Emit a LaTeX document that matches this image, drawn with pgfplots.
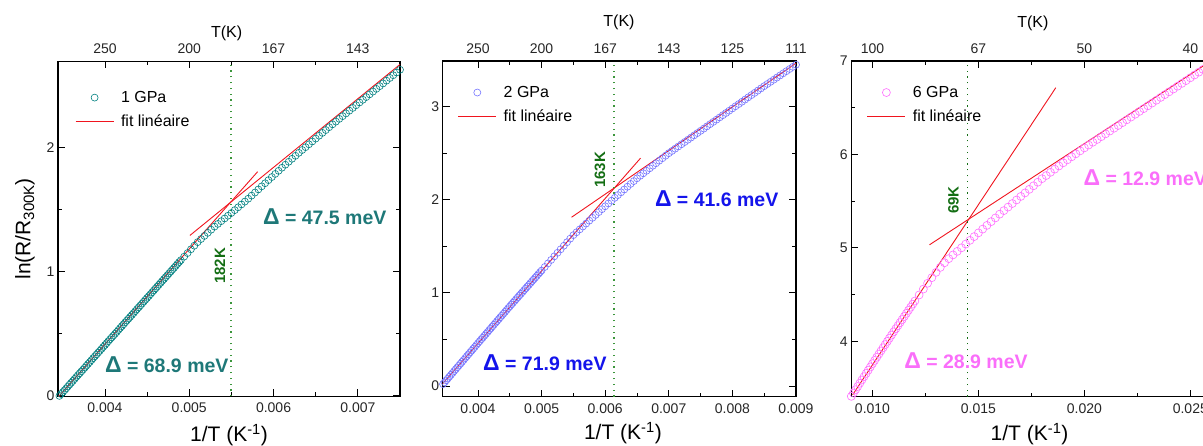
\documentclass[border=0pt]{standalone}
\usepackage{fontspec}
\setmainfont{Liberation Sans}
\usepackage{pgfplots}
\pgfplotsset{compat=1.18}
\definecolor{teal1}{RGB}{0,128,128}
\definecolor{teallab}{RGB}{30,120,120}
\definecolor{blue1}{RGB}{115,115,255}
\definecolor{bluelab}{RGB}{20,20,235}
\definecolor{pink1}{RGB}{255,110,255}
\definecolor{pinklab}{RGB}{250,110,250}
\definecolor{dgreen}{RGB}{20,110,20}
\definecolor{lgreen}{RGB}{60,150,60}
\definecolor{fitred}{RGB}{240,20,30}
\newcommand{\dlab}[1]{\fontsize{19.5}{21}\selectfont\bfseries{\fontsize{23}{23}\selectfont Δ}\ = #1 meV}
\pgfplotsset{legend image code/.code={\draw[mark repeat=2,mark phase=2,#1] plot coordinates {(0pt,0pt) (19pt,0pt) (38pt,0pt)};}}
\pgfplotsset{
  legst/.style={legend style={draw=none, fill=none, font=\fontsize{16}{19}\selectfont, anchor=north west, legend cell align=left, row sep=7pt, column sep=5pt}},
  base/.style={scale only axis, tick align=inside, major tick length=7pt, minor tick length=4pt,
    scaled x ticks=false, scaled y ticks=false,
    axis line style={line width=1.1pt, black}, every tick/.append style={line width=0.9pt, black},
    tick label style={font=\fontsize{14}{16}\selectfont, black!85},
    /pgf/number format/assume math mode=true,
    xticklabel style={yshift=-3pt},
    minor x tick num=1, minor y tick num=1, xtick pos=both, ytick pos=both,
    legst,
    xlabel style={font=\fontsize{21}{24}\selectfont, anchor=center},
    ylabel style={font=\fontsize{21}{24}\selectfont, anchor=center},
  },
  topax/.style={scale only axis, axis x line*=top, axis y line=none, major tick length=0pt, minor tick num=0,
    scaled x ticks=false, clip=false, legst,
    axis line style={draw=none}, tick label style={font=\fontsize{14}{16}\selectfont, black!85},
    xticklabel style={yshift=4pt},
    /pgf/number format/assume math mode=true},
  m1/.style={forget plot, only marks, mark=o, mark size=3.5pt, color=teal1, mark options={line width=0.6pt}},
  m2/.style={forget plot, only marks, mark=o, mark size=3.5pt, color=blue1, mark options={line width=0.6pt}},
  m3/.style={forget plot, only marks, mark=o, mark size=4pt, color=pink1, mark options={line width=0.6pt}},
  fitl/.style={forget plot, draw=fitred, line width=0.9pt},
  fitleg/.style={legend image code/.code={\draw[draw=fitred, line width=0.8pt] (0pt,0pt) -- (38pt,0pt);}},
}
\begin{document}
\begin{tikzpicture}
\useasboundingbox (0pt,0pt) rectangle (1203pt,446pt);
% ---------------- Panel 1 ----------------
\begin{axis}[base, at={(58pt,49.5pt)}, anchor=south west, width=342pt, height=335.4pt,
  xmin=0.003443, xmax=0.0075, ymin=-0.005, ymax=2.7,
  xtick={0.004,0.005,0.006,0.007}, xticklabels={0.004,0.005,0.006,0.007},
  ytick={0,1,2}, yticklabels={0,1,2},
  xlabel={1/T (K\textsuperscript{-1})}, xlabel style={at={(axis description cs:0.5,-0.115)}},
  ylabel={ln(R/R\raisebox{-0.35ex}{\fontsize{15}{15}\selectfont 300K})}, ylabel style={at={(axis description cs:-0.097,0.5)}}]
\addplot[m1] coordinates {
(0.00346,0.000) (0.00350,0.030) (0.00354,0.060) (0.00358,0.091) (0.00362,0.121) (0.00366,0.152)
(0.00370,0.182) (0.00374,0.212) (0.00378,0.243) (0.00382,0.273) (0.00386,0.304) (0.00390,0.334)
(0.00394,0.364) (0.00398,0.395) (0.00402,0.425) (0.00406,0.456) (0.00410,0.486) (0.00414,0.516)
(0.00418,0.547) (0.00422,0.577) (0.00426,0.608) (0.00430,0.638) (0.00434,0.668) (0.00438,0.699)
(0.00442,0.729) (0.00446,0.760) (0.00450,0.790) (0.00454,0.820) (0.00458,0.851) (0.00462,0.881)
(0.00466,0.912) (0.00470,0.942) (0.00474,0.972) (0.00478,1.003) (0.00482,1.033) (0.00486,1.064)
(0.00490,1.094) (0.00494,1.123) (0.00498,1.152) (0.00502,1.182) (0.00506,1.211) (0.00510,1.240)
(0.00514,1.265) (0.00518,1.290) (0.00522,1.315) (0.00526,1.340) (0.00530,1.365) (0.00534,1.387)
(0.00538,1.409) (0.00542,1.431) (0.00546,1.453) (0.00550,1.475) (0.00554,1.498) (0.00558,1.521)
(0.00562,1.544) (0.00566,1.567) (0.00570,1.590) (0.00574,1.615) (0.00578,1.640) (0.00582,1.665)
(0.00586,1.690) (0.00590,1.715) (0.00594,1.740) (0.00598,1.765) (0.00602,1.790) (0.00606,1.815)
(0.00610,1.840) (0.00614,1.864) (0.00618,1.888) (0.00622,1.912) (0.00626,1.936) (0.00630,1.960)
(0.00634,1.983) (0.00638,2.006) (0.00642,2.029) (0.00646,2.052) (0.00650,2.075) (0.00654,2.098)
(0.00658,2.121) (0.00662,2.144) (0.00666,2.167) (0.00670,2.190) (0.00674,2.212) (0.00678,2.234)
(0.00682,2.256) (0.00686,2.278) (0.00690,2.300) (0.00694,2.322) (0.00698,2.344) (0.00702,2.366)
(0.00706,2.388) (0.00710,2.410) (0.00714,2.432) (0.00718,2.454) (0.00722,2.476) (0.00726,2.498)
(0.00730,2.520) (0.00734,2.542) (0.00738,2.564) (0.00742,2.586) (0.00746,2.608) (0.00750,2.630)
};
\addplot[m1] coordinates {
(0.00348,0.015) (0.00352,0.045) (0.00356,0.0755) (0.00360,0.106) (0.00364,0.1365) (0.00368,0.167)
(0.00372,0.197) (0.00376,0.2275) (0.00380,0.258) (0.00384,0.2885) (0.00388,0.319) (0.00392,0.349)
(0.00396,0.3795) (0.00400,0.410) (0.00404,0.4405) (0.00408,0.471) (0.00412,0.501) (0.00416,0.5315)
(0.00420,0.562) (0.00424,0.5925) (0.00428,0.623) (0.00432,0.653) (0.00436,0.6835) (0.00440,0.714)
(0.00444,0.7445) (0.00448,0.775) (0.00452,0.805) (0.00456,0.8355) (0.00460,0.866) (0.00464,0.8965)
(0.00468,0.927) (0.00472,0.957) (0.00476,0.9875) (0.00480,1.018) (0.00484,1.0485) (0.00488,1.079)
};
\addplot[fitl] coordinates {(0.00345,-0.006) (0.005811,1.808)};
\addplot[fitl] coordinates {(0.005008,1.294) (0.0075,2.673)};
\addplot[forget plot, lgreen, line width=1.3pt, dash pattern=on 1.2pt off 4.6pt] coordinates {(0.005495,-0.005) (0.005495,2.7)};
\node[anchor=west, inner sep=0pt, teallab] at (axis cs:0.005874,1.448) {\dlab{47.5}};
\node[anchor=west, inner sep=0pt, teallab] at (axis cs:0.004,0.248) {\dlab{68.9}};
\node[rotate=90, inner sep=0pt, dgreen, font=\fontsize{15}{16}\selectfont\bfseries] at (axis cs:0.005364,1.047) {182K};
\end{axis}
\begin{axis}[topax, at={(58pt,49.5pt)}, anchor=south west, width=342pt, height=335.4pt,
  xmin=0.003443, xmax=0.0075, ymin=-0.005, ymax=2.7,
  xtick={0.004,0.005,0.006,0.007}, xticklabels={250,200,167,143},
  legend style={at={(axis description cs:0,1)}, xshift=14pt, yshift=-26pt}]
\addlegendimage{only marks, mark=o, mark size=3.5pt, color=teal1, mark options={line width=0.6pt}}
\addlegendentry{1 GPa}
\addlegendimage{fitleg}
\addlegendentry{fit linéaire}
\node[font=\fontsize{16}{18}\selectfont] at (axis description cs:0.493,1) [yshift=28pt] {T(K)};
\end{axis}
% ---------------- Panel 2 ----------------
\begin{axis}[base, at={(442.7pt,49.3pt)}, anchor=south west, width=353.3pt, height=335.7pt,
  xmin=0.003445, xmax=0.009, ymin=-0.115, ymax=3.49,
  xtick={0.004,0.005,0.006,0.007,0.008,0.009}, xticklabels={0.004,0.005,0.006,0.007,0.008,0.009},
  ytick={0,1,2,3}, yticklabels={0,1,2,3},
  xlabel={1/T (K\textsuperscript{-1})}, xlabel style={at={(axis description cs:0.51,-0.108)}},
  legend style={at={(axis description cs:0,1)}, xshift=12pt, yshift=-21pt}]
\addlegendimage{only marks, mark=o, mark size=3.5pt, color=blue1, mark options={line width=0.6pt}}
\addlegendentry{2 GPa}
\addlegendimage{fitleg}
\addlegendentry{fit linéaire}
\addplot[m2] coordinates {
(0.00345,0.020) (0.00350,0.060) (0.00355,0.100) (0.00360,0.140) (0.00365,0.180) (0.00370,0.220)
(0.00375,0.260) (0.00380,0.300) (0.00385,0.340) (0.00390,0.380) (0.00395,0.420) (0.00400,0.460)
(0.00405,0.500) (0.00410,0.539) (0.00415,0.579) (0.00420,0.618) (0.00425,0.658) (0.00430,0.697)
(0.00435,0.737) (0.00440,0.776) (0.00445,0.816) (0.00450,0.855) (0.00455,0.894) (0.00460,0.932)
(0.00465,0.971) (0.00470,1.009) (0.00475,1.048) (0.00480,1.086) (0.00485,1.125) (0.00490,1.163)
(0.00495,1.202) (0.00500,1.240) (0.00505,1.278) (0.00510,1.316) (0.00515,1.354) (0.00520,1.392)
(0.00525,1.430) (0.00530,1.468) (0.00535,1.506) (0.00540,1.544) (0.00545,1.582) (0.00550,1.620)
(0.00555,1.651) (0.00560,1.682) (0.00565,1.713) (0.00570,1.744) (0.00575,1.775) (0.00580,1.806)
(0.00585,1.837) (0.00590,1.868) (0.00595,1.899) (0.00600,1.930) (0.00605,1.960) (0.00610,1.990)
(0.00615,2.020) (0.00620,2.050) (0.00625,2.080) (0.00630,2.110) (0.00635,2.140) (0.00640,2.170)
(0.00645,2.200) (0.00650,2.230) (0.00655,2.257) (0.00660,2.284) (0.00665,2.311) (0.00670,2.338)
(0.00675,2.365) (0.00680,2.392) (0.00685,2.419) (0.00690,2.446) (0.00695,2.473) (0.00700,2.500)
(0.00705,2.524) (0.00710,2.548) (0.00715,2.572) (0.00720,2.596) (0.00725,2.620) (0.00730,2.644)
(0.00735,2.668) (0.00740,2.692) (0.00745,2.716) (0.00750,2.740) (0.00755,2.764) (0.00760,2.788)
(0.00765,2.812) (0.00770,2.836) (0.00775,2.860) (0.00780,2.884) (0.00785,2.908) (0.00790,2.932)
(0.00795,2.956) (0.00800,2.980) (0.00805,3.004) (0.00810,3.028) (0.00815,3.052) (0.00820,3.076)
(0.00825,3.100) (0.00830,3.124) (0.00835,3.148) (0.00840,3.172) (0.00845,3.196) (0.00850,3.220)
(0.00855,3.243) (0.00860,3.266) (0.00865,3.289) (0.00870,3.312) (0.00875,3.335) (0.00880,3.358)
(0.00885,3.381) (0.00890,3.404) (0.00895,3.427) (0.00900,3.450)
};
\addplot[m2] coordinates {
(0.003475,0.040) (0.003525,0.080) (0.003575,0.120) (0.003625,0.160) (0.003675,0.200) (0.003725,0.240)
(0.003775,0.280) (0.003825,0.320) (0.003875,0.360) (0.003925,0.400) (0.003975,0.440) (0.004025,0.480)
(0.004075,0.5195) (0.004125,0.559) (0.004175,0.5985) (0.004225,0.638) (0.004275,0.6775) (0.004325,0.717)
(0.004375,0.7565) (0.004425,0.796) (0.004475,0.8355) (0.004525,0.8745) (0.004575,0.913) (0.004625,0.9515)
(0.004675,0.990) (0.004725,1.0285) (0.004775,1.067) (0.004825,1.1055) (0.004875,1.144) (0.004925,1.1825)
(0.004975,1.221)
};
\addplot[fitl] coordinates {(0.003445,0.026) (0.006555,2.446)};
\addplot[fitl] coordinates {(0.005471,1.812) (0.009,3.466)};
\addplot[forget plot, lgreen, line width=1.3pt, dash pattern=on 1.2pt off 4.6pt] coordinates {(0.006138,-0.115) (0.006138,3.49)};
\node[anchor=west, inner sep=0pt, bluelab] at (axis cs:0.00678,2.016) {\dlab{41.6}};
\node[anchor=west, inner sep=0pt, bluelab] at (axis cs:0.004079,0.255) {\dlab{71.9}};
\node[rotate=90, inner sep=0pt, dgreen, font=\fontsize{15}{16}\selectfont\bfseries] at (axis cs:0.005916,2.32) {163K};
\end{axis}
\begin{axis}[topax, at={(442.7pt,49.3pt)}, anchor=south west, width=353.3pt, height=335.7pt,
  xmin=0.003445, xmax=0.009, ymin=-0.115, ymax=3.49,
  xtick={0.004,0.005,0.006,0.007,0.008,0.009}, xticklabels={250,200,167,143,125,111}]
\node[font=\fontsize{16}{18}\selectfont] at (axis description cs:0.499,1) [yshift=39pt] {T(K)};
\end{axis}
% ---------------- Panel 3 ----------------
\begin{axis}[base, at={(851.3pt,49.3pt)}, anchor=south west, width=360.2pt, height=335.7pt,
  xmin=0.009, xmax=0.026, ymin=3.406, ymax=7,
  xtick={0.010,0.015,0.020,0.025}, xticklabels={0.010,0.015,0.020,0.025},
  ytick={4,5,6,7}, yticklabels={4,5,6,7},
  xlabel={1/T (K\textsuperscript{-1})}, xlabel style={at={(axis description cs:0.495,-0.112)}},
  legend style={at={(axis description cs:0,1)}, xshift=12.5pt, yshift=-21pt}]
\addlegendimage{only marks, mark=o, mark size=4pt, color=pink1, mark options={line width=0.6pt}}
\addlegendentry{6 GPa}
\addlegendimage{fitleg}
\addlegendentry{fit linéaire}
\addplot[m3] coordinates {
(0.0090,3.410) (0.0092,3.480) (0.0094,3.550) (0.0096,3.620) (0.0098,3.690) (0.0100,3.760)
(0.0102,3.828) (0.0104,3.896) (0.0106,3.964) (0.0108,4.032) (0.0110,4.100) (0.0112,4.166)
(0.0114,4.232) (0.0116,4.298) (0.0118,4.364) (0.0120,4.430) (0.0122,4.495) (0.0124,4.558)
(0.0126,4.620) (0.0128,4.680) (0.0130,4.737) (0.0132,4.790) (0.0134,4.840) (0.0136,4.884)
(0.0138,4.924) (0.0140,4.962) (0.0142,5.000) (0.0144,5.040) (0.0146,5.080) (0.0148,5.120)
(0.0150,5.160) (0.0152,5.200) (0.0154,5.240) (0.0156,5.280) (0.0158,5.320) (0.0160,5.360)
(0.0162,5.398) (0.0164,5.436) (0.0166,5.474) (0.0168,5.512) (0.0170,5.550) (0.0172,5.588)
(0.0174,5.626) (0.0176,5.664) (0.0178,5.702) (0.0180,5.740) (0.0182,5.774) (0.0184,5.808)
(0.0186,5.842) (0.0188,5.876) (0.0190,5.910) (0.0192,5.942) (0.0194,5.974) (0.0196,6.006)
(0.0198,6.038) (0.0200,6.070) (0.0202,6.100) (0.0204,6.130) (0.0206,6.160) (0.0208,6.190)
(0.0210,6.220) (0.0212,6.250) (0.0214,6.280) (0.0216,6.310) (0.0218,6.340) (0.0220,6.370)
(0.0222,6.400) (0.0224,6.430) (0.0226,6.460) (0.0228,6.490) (0.0230,6.520) (0.0232,6.550)
(0.0234,6.580) (0.0236,6.610) (0.0238,6.640) (0.0240,6.670) (0.0242,6.700) (0.0244,6.730)
(0.0246,6.760) (0.0248,6.790) (0.0250,6.820) (0.0252,6.850) (0.0254,6.880) (0.0256,6.910)
};
\addplot[m3] coordinates {
(0.0091,3.445) (0.0093,3.515) (0.0095,3.585) (0.0097,3.655) (0.0099,3.725) (0.0101,3.794)
(0.0103,3.862) (0.0105,3.930) (0.0107,3.998) (0.0109,4.066) (0.0111,4.133) (0.0113,4.199)
(0.0115,4.265) (0.0117,4.331) (0.0119,4.397)
};
\addplot[fitl] coordinates {(0.00906,3.425) (0.018651,6.714)};
\addplot[fitl] coordinates {(0.012689,5.032) (0.026,7.005)};
\addplot[forget plot, dgreen, line width=1.3pt, dash pattern=on 1.2pt off 4.6pt] coordinates {(0.014493,3.406) (0.014493,7)};
\node[anchor=west, inner sep=0pt, pinklab] at (axis cs:0.019953,5.753) {\dlab{12.9}};
\node[anchor=west, inner sep=0pt, pinklab] at (axis cs:0.011495,3.787) {\dlab{28.9}};
\node[rotate=90, inner sep=0pt, dgreen, font=\fontsize{15}{16}\selectfont\bfseries] at (axis cs:0.013821,5.512) {69K};
\end{axis}
\begin{axis}[topax, at={(851.3pt,49.3pt)}, anchor=south west, width=360.2pt, height=335.7pt,
  xmin=0.009, xmax=0.026, ymin=3.406, ymax=7,
  xtick={0.010,0.015,0.020,0.025}, xticklabels={100,67,50,40}]
\node[font=\fontsize{16}{18}\selectfont] at (axis description cs:0.504,1) [yshift=37.5pt] {T(K)};
\end{axis}
\end{tikzpicture}
\end{document}
